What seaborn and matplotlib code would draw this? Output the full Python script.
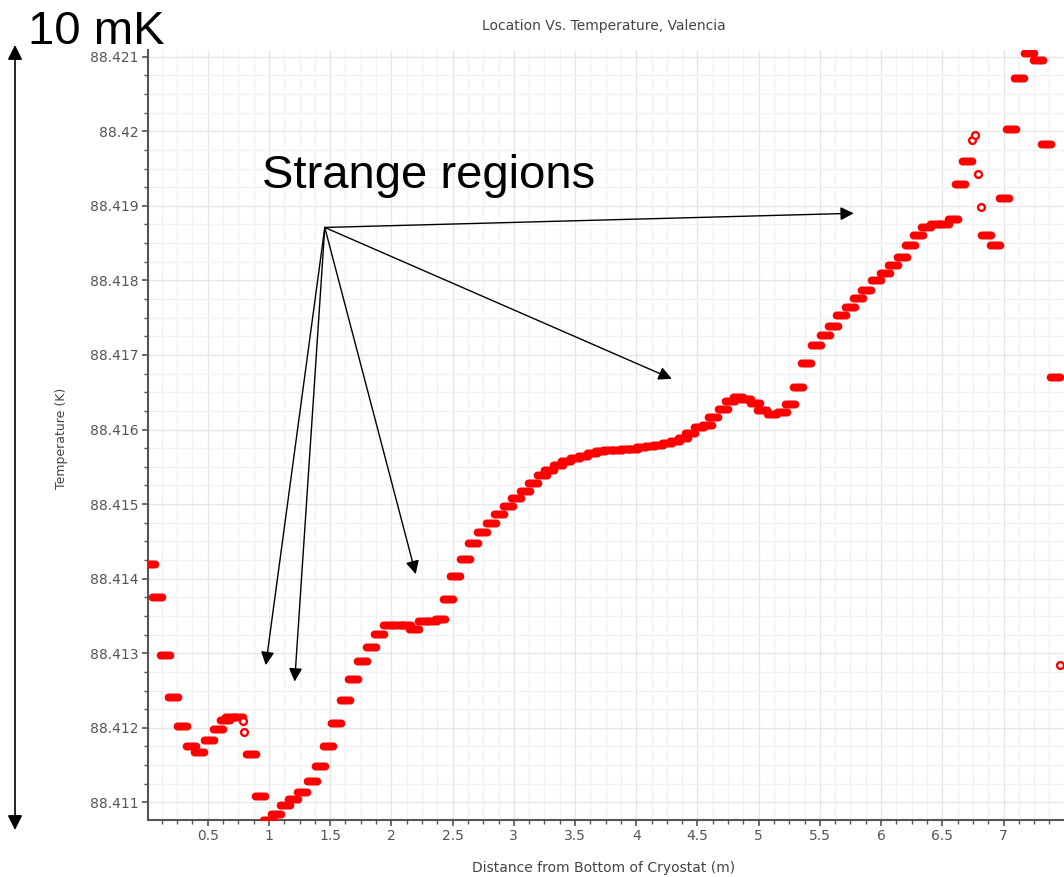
import numpy as np
import pandas as pd
import matplotlib
matplotlib.use("Agg")
import matplotlib.pyplot as plt
from matplotlib.path import Path
from matplotlib.ticker import MultipleLocator, FuncFormatter
import seaborn as sns

# ---------------- data ----------------
dist_m = [0.03, 0.084, 0.15, 0.22, 0.29, 0.36, 0.43, 0.51, 0.58, 0.64, 0.685, 0.745,
          0.857, 0.925, 0.99, 1.06, 1.13, 1.195, 1.27, 1.35, 1.415, 1.48, 1.55, 1.62,
          1.69, 1.76, 1.83, 1.90, 1.97, 2.055, 2.12, 2.185, 2.26, 2.33, 2.395, 2.46,
          2.52, 2.60, 2.67, 2.74, 2.81, 2.88, 2.95, 3.02, 3.09, 3.16, 3.23, 3.29,
          3.36, 3.425, 3.50, 3.565, 3.635, 3.70, 3.77, 3.84, 3.91, 3.975, 4.04, 4.11,
          4.18, 4.25, 4.315, 4.38, 4.44, 4.51, 4.575, 4.63, 4.705, 4.765, 4.83, 4.90,
          4.97, 5.03, 5.11, 5.19, 5.255, 5.32, 5.39, 5.47, 5.54, 5.61, 5.67, 5.745,
          5.81, 5.88, 5.96, 6.03, 6.10, 6.17, 6.235, 6.30, 6.37, 6.44, 6.51, 6.585,
          6.645, 6.70, 6.86, 6.93, 7.00, 7.065, 7.13, 7.21, 7.285, 7.35, 7.42]
temp_K = [88.41420, 88.41376, 88.41297, 88.41241, 88.41202, 88.41175, 88.41167, 88.41183,
          88.41198, 88.41210, 88.41215, 88.41214, 88.41165, 88.41108, 88.41077, 88.41084,
          88.41096, 88.41104, 88.41114, 88.41129, 88.41149, 88.41175, 88.41207, 88.41237,
          88.41266, 88.41289, 88.41309, 88.41326, 88.41338, 88.41338, 88.41338, 88.41332,
          88.41343, 88.41343, 88.41346, 88.41373, 88.41403, 88.41427, 88.41448, 88.41462,
          88.41475, 88.41487, 88.41497, 88.41508, 88.41517, 88.41528, 88.41539, 88.41546,
          88.41552, 88.41558, 88.41562, 88.41565, 88.41568, 88.41571, 88.41572, 88.41573,
          88.41574, 88.41574, 88.41576, 88.41578, 88.41579, 88.41582, 88.41585, 88.41588,
          88.41595, 88.41603, 88.41606, 88.41617, 88.41628, 88.41638, 88.41643, 88.41641,
          88.41635, 88.41626, 88.41621, 88.41623, 88.41634, 88.41657, 88.41689, 88.41713,
          88.41727, 88.41739, 88.41753, 88.41764, 88.41776, 88.41787, 88.41800, 88.41810,
          88.41820, 88.41832, 88.41848, 88.41861, 88.41871, 88.41876, 88.41876, 88.41882,
          88.41929, 88.41960, 88.41861, 88.41848, 88.41911, 88.42003, 88.42071, 88.42105,
          88.42095, 88.41983, 88.41670]

single_dist_m = [0.785, 0.80, 6.74, 6.765, 6.79, 6.815, 7.46]
single_temp_K = [88.41209, 88.41194, 88.41988, 88.41995, 88.41943, 88.41898, 88.41284]

title = "Location Vs. Temperature, Valencia"
x_label = "Distance from Bottom of Cryostat (m)"
y_label = "Temperature (K)"
scale_label = "10 mK"
note_label = "Strange regions"
note_origin = (1.456, 88.41871)
note_targets_x = [5.777, 4.291, 2.199, 1.210, 0.974]
note_targets_y = [88.41890, 88.41668, 88.41406, 88.41262, 88.41284]

df = pd.DataFrame({"dist": dist_m, "temp": temp_K})
df_single = pd.DataFrame({"dist": single_dist_m, "temp": single_temp_K})

# ---------------- style ----------------
sns.set_theme(style="white")
plt.rcParams["font.family"] = ["DejaVu Sans"]

W, H = 1064, 877
fig = plt.figure(figsize=(W / 100, H / 100), dpi=100)
ax = fig.add_axes([148 / W, (H - 819.5) / H, (W - 148) / W, (819.5 - 50) / H])

# capsule-shaped marker (horizontal run of overlapping dots)
a = 1.2
t1 = np.linspace(-np.pi / 2, np.pi / 2, 14)
t2 = np.linspace(np.pi / 2, 3 * np.pi / 2, 14)
verts = np.vstack([np.c_[a + np.cos(t1), np.sin(t1)],
                   np.c_[-a + np.cos(t2), np.sin(t2)]])
capsule = Path(np.vstack([verts, verts[:1]]), closed=True)

sns.scatterplot(data=df, x="dist", y="temp", ax=ax, marker=capsule, s=160,
                color="#ff0000", edgecolor="#ff0000", linewidth=0, zorder=3)
sns.scatterplot(data=df_single, x="dist", y="temp", ax=ax, marker="o", s=24,
                facecolor="white", edgecolor="#ff0000", linewidth=1.7, zorder=3)

ax.set_xlim(0.012, 7.494)
ax.set_ylim(88.41077, 88.42109)

ax.xaxis.set_major_locator(MultipleLocator(0.5))
ax.xaxis.set_minor_locator(MultipleLocator(0.125))
ax.yaxis.set_major_locator(MultipleLocator(0.001))
ax.yaxis.set_minor_locator(MultipleLocator(0.00025))
ax.xaxis.set_major_formatter(FuncFormatter(lambda v, p: f"{v:g}"))
ax.yaxis.set_major_formatter(FuncFormatter(lambda v, p: f"{v:.3f}".rstrip("0").rstrip(".")))

ax.grid(True, which="major", color="#e6e6e6", linewidth=1.0)
ax.grid(True, which="minor", color="#f2f2f2", linewidth=1.0)
ax.set_axisbelow(True)

for s in ["top", "right"]:
    ax.spines[s].set_visible(False)
for s in ["left", "bottom"]:
    ax.spines[s].set_color("#555555")
    ax.spines[s].set_linewidth(1.5)

ax.tick_params(which="major", direction="out", length=4, width=1.2, color="#555555",
               labelsize=10, labelcolor="#555555", left=True, bottom=True, pad=3)
ax.tick_params(which="minor", direction="out", length=3, width=1.0, color="#555555",
               left=True, bottom=True)

ax.set_xlabel("")
ax.set_ylabel("")
fig.text(604 / W, (H - 26) / H, title, ha="center", va="center", fontsize=10, color="#444444")
fig.text(604 / W, (H - 868) / H, x_label, ha="center", va="center", fontsize=10, color="#444444")
fig.text(62 / W, (H - 438) / H, y_label, ha="center", va="center", rotation=90,
         fontsize=9, color="#444444")

# ---------------- annotations ----------------
big_font = ["Liberation Sans", "DejaVu Sans"]
fig.text(28 / W, (H - 44) / H, scale_label, ha="left", va="baseline", fontsize=34,
         family=big_font, color="black")
ax.annotate("", xy=(15, H - 830), xytext=(15, H - 45), xycoords="figure pixels",
            textcoords="figure pixels",
            arrowprops=dict(arrowstyle="<|-|>", color="black", lw=1.2,
                            mutation_scale=22, shrinkA=0, shrinkB=0))

fig.text(262 / W, (H - 188) / H, note_label, ha="left", va="baseline", fontsize=34,
         family=big_font, color="black")
for tx, ty in zip(note_targets_x, note_targets_y):
    ax.annotate("", xy=(tx, ty), xytext=note_origin, xycoords="data", textcoords="data",
                annotation_clip=False,
                arrowprops=dict(arrowstyle="-|>", color="black", lw=1.0,
                                mutation_scale=20, shrinkA=0, shrinkB=0))

fig.savefig("out.png", dpi=100)
